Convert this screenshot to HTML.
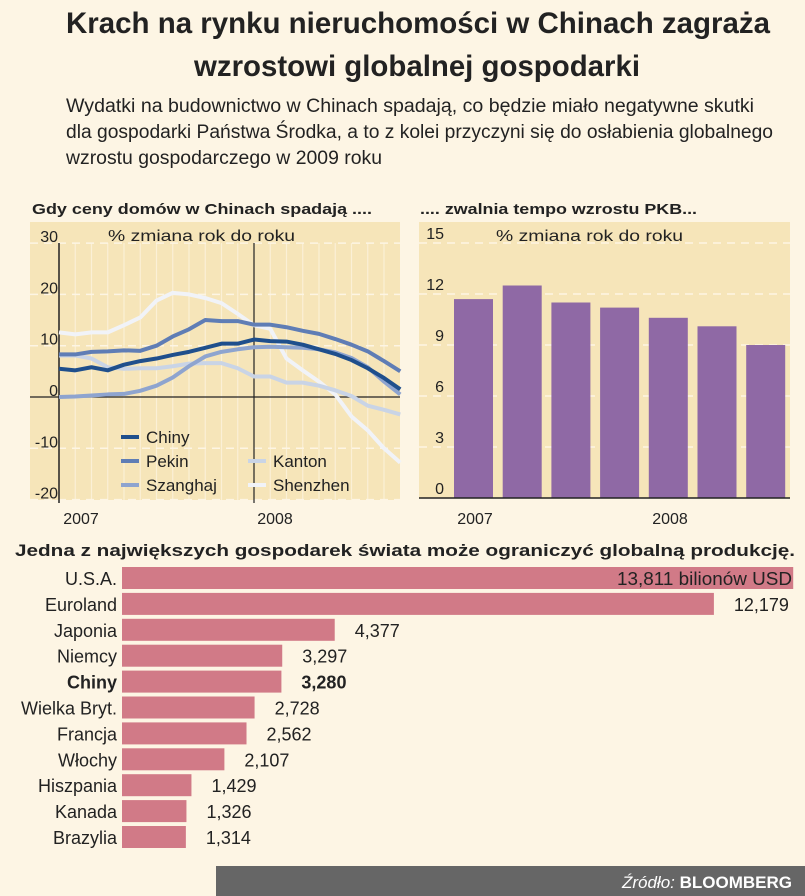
<!DOCTYPE html>
<html><head><meta charset="utf-8"><style>
body{margin:0;background:#fdf5e4;}
svg{display:block;font-family:"Liberation Sans",sans-serif;}
</style></head><body>
<svg id="c" width="805" height="896" viewBox="0 0 805 896">
<rect x="0" y="0" width="805" height="896" fill="#fdf5e4"/>
<text x="66" y="33" font-size="30" font-weight="bold" fill="#222" textLength="704" lengthAdjust="spacingAndGlyphs">Krach na rynku nieruchomości w Chinach zagraża</text>
<text x="194" y="76" font-size="30" font-weight="bold" fill="#222" textLength="446" lengthAdjust="spacingAndGlyphs">wzrostowi globalnej gospodarki</text>
<g font-size="19" fill="#222">
<text x="66" y="112" textLength="688" lengthAdjust="spacingAndGlyphs">Wydatki na budownictwo w Chinach spadają, co będzie miało negatywne skutki</text>
<text x="66" y="138" textLength="707" lengthAdjust="spacingAndGlyphs">dla gospodarki Państwa Środka, a to z kolei przyczyni się do osłabienia globalnego</text>
<text x="66" y="164" textLength="316" lengthAdjust="spacingAndGlyphs">wzrostu gospodarczego w 2009 roku</text>
</g>
<text x="32" y="214" font-size="15" font-weight="bold" fill="#222" textLength="340" lengthAdjust="spacingAndGlyphs">Gdy ceny domów w Chinach spadają ....</text>
<text x="420" y="214" font-size="15" font-weight="bold" fill="#222" textLength="277" lengthAdjust="spacingAndGlyphs">.... zwalnia tempo wzrostu PKB...</text>
<rect x="30" y="222" width="370" height="278" fill="#f6e5b9"/>
<rect x="419" y="222" width="371" height="276" fill="#f6e5b9"/>
<g id="left"></g><g id="right"></g><g id="bottom"></g>
<text x="15" y="556" font-size="17" font-weight="bold" fill="#222" textLength="780" lengthAdjust="spacingAndGlyphs">Jedna z największych gospodarek świata może ograniczyć globalną produkcję.</text>
<rect x="216" y="866" width="589" height="30" fill="#666"/>
<text x="792" y="888" text-anchor="end" font-size="17" fill="#fff"><tspan font-style="italic">Źródło: </tspan><tspan font-weight="bold">BLOOMBERG</tspan></text>
</svg>
<script>
const NS="http://www.w3.org/2000/svg";
function mk(p,t,a,txt){const e=document.createElementNS(NS,t);for(const k in a)e.setAttribute(k,a[k]);if(txt!==undefined)e.textContent=txt;p.appendChild(e);return e;}

// ---- left chart data ----
const yTicksL=[30,20,10,0,-10,-20];
const chiny=[5.5,5.2,5.8,5.2,6.3,7.0,7.5,8.2,8.8,9.6,10.4,10.4,11.2,10.9,10.8,10.2,9.3,8.4,7.2,5.6,3.7,1.5];
const pekin=[8.3,8.3,8.8,8.9,9.1,9.0,10.0,11.8,13.2,15.0,14.8,14.8,14.1,14.1,13.6,12.9,12.3,11.3,10.2,8.9,7.0,5.0];
const szanghaj=[0,0.1,0.3,0.5,0.6,1.2,2.2,3.8,6.0,7.9,8.8,9.3,9.7,9.8,9.7,9.6,9.3,8.7,7.6,5.8,3.0,0.5];
const kanton=[8.1,8.1,7.5,5.8,5.5,5.6,5.6,6.0,6.5,6.6,6.6,5.6,4.0,4.0,2.8,2.8,2.2,1.3,0.2,-1.7,-2.5,-3.4];
const shenzhen=[12.6,12.2,12.6,12.6,14.0,15.5,18.8,20.3,20.0,19.3,18.3,16.2,14.0,13.3,7.5,5.2,3.0,0.5,-3.8,-6.5,-10,-12.8];
const xLabelsL=["2007","2008"];

const L=document.getElementById('left');
const lx=i=>59+16.25*i;
const ly=v=>397-v*5.13;
for(let i=1;i<21;i++){if(i===12)continue;const g=mk(L,'line',{x1:lx(i),x2:lx(i),y1:243,y2:500,stroke:'#fbf0d6','stroke-width':1.2});

}
yTicksL.forEach(t=>{if(t!==0){const g=mk(L,'line',{x1:30,x2:400,y1:ly(t),y2:ly(t),stroke:'#fdf5e4','stroke-width':1.5,'stroke-dasharray':'8 6'});

}
const tx=mk(L,'text',{x:58,y:ly(t)-1,'text-anchor':'end','font-size':16,fill:'#222'},String(t));

});
const t1=mk(L,'text',{x:108,y:241,'font-size':16,fill:'#222',textLength:187,lengthAdjust:'spacingAndGlyphs'},'% zmiana rok do roku');


const ax=mk(L,'line',{x1:59,x2:59,y1:243,y2:503,stroke:'#222','stroke-width':1.5});


const ax2=mk(L,'line',{x1:lx(12),x2:lx(12),y1:243,y2:503,stroke:'#222','stroke-width':1.2});


const ax0=mk(L,'line',{x1:30,x2:400,y1:ly(0),y2:ly(0),stroke:'#222','stroke-width':1.2});


[[xLabelsL[0],lx(0)+22],[xLabelsL[1],lx(12)+21]].forEach(([s,x])=>{const t=mk(L,'text',{x:x,y:524,'text-anchor':'middle','font-size':16,fill:'#222'},s);

});
const series=[['shenzhen',shenzhen,'#f1f3f8'],['kanton',kanton,'#c9d4e6'],['szanghaj',szanghaj,'#8ea4cf'],['pekin',pekin,'#5f7db5'],['chiny',chiny,'#1f4f8c']];
series.forEach(([n,d,c])=>{const p=mk(L,'polyline',{points:d.map((v,i)=>lx(i)+','+ly(v)).join(' '),fill:'none',stroke:c,'stroke-width':4,'stroke-linejoin':'round'});

});
const legend=[['Chiny','#1f4f8c',121,437],['Pekin','#5f7db5',121,461],['Szanghaj','#8ea4cf',121,485],['Kanton','#c9d4e6',248,461],['Shenzhen','#f1f3f8',248,485]];
legend.forEach(([s,c,x,y])=>{const g=mk(L,'g',{});


mk(g,'line',{x1:x,x2:x+18,y1:y,y2:y,stroke:c,'stroke-width':4});mk(g,'text',{x:x+25,y:y+6,'font-size':17,fill:'#222'},s);});

// ---- right chart data ----
const gdp=[11.7,12.5,11.5,11.2,10.6,10.1,9.0];
const yTicksR=[15,12,9,6,3,0];
const R=document.getElementById('right');
const ry=v=>498-v*17;
yTicksR.forEach(t=>{if(t>0){const g=mk(R,'line',{x1:419,x2:790,y1:ry(t),y2:ry(t),stroke:'#fdf5e4','stroke-width':1.5,'stroke-dasharray':'8 6'});

}
const tx=mk(R,'text',{x:444,y:ry(t)-4,'text-anchor':'end','font-size':16,fill:'#222'},String(t));

});
const t2=mk(R,'text',{x:496,y:241,'font-size':16,fill:'#222',textLength:187,lengthAdjust:'spacingAndGlyphs'},'% zmiana rok do roku');


gdp.forEach((v,i)=>{const b=mk(R,'rect',{x:454+48.7*i,y:ry(v),width:39,height:v*17,fill:'#8f69a5'});

});
const rb=mk(R,'line',{x1:419,x2:790,y1:498,y2:498,stroke:'#222','stroke-width':1.5});


[['2007',475],['2008',670]].forEach(([s,x])=>{const t=mk(R,'text',{x:x,y:524,'text-anchor':'middle','font-size':16,fill:'#222'},s);

});

// ---- bottom chart data ----
const countries=["U.S.A.","Euroland","Japonia","Niemcy","Chiny","Wielka Bryt.","Francja","Włochy","Hiszpania","Kanada","Brazylia"];
const gdpUsd=[13811,12179,4377,3297,3280,2728,2562,2107,1429,1326,1314];
const B=document.getElementById('bottom');
const bx=v=>v*0.0486;
countries.forEach((c,i)=>{const cy=578+25.9*i;const bold=c==='Chiny';
const r=mk(B,'rect',{x:122,y:cy-11,width:bx(gdpUsd[i]),height:22,fill:'#d17a87'});


const l=mk(B,'text',{x:117,y:cy+7,'text-anchor':'end','font-size':18,fill:'#222','font-weight':bold?'bold':'normal'},c);


const s=gdpUsd[i].toLocaleString('en-US');
let vt;
if(i===0){vt=mk(B,'text',{x:792,y:cy+7,'text-anchor':'end','font-size':18,fill:'#222',textLength:175,lengthAdjust:'spacingAndGlyphs'},s+' bilionów USD');}
else{vt=mk(B,'text',{x:122+bx(gdpUsd[i])+20,y:cy+7,'font-size':18,fill:'#222','font-weight':bold?'bold':'normal'},s);}

});
</script>
</body></html>
